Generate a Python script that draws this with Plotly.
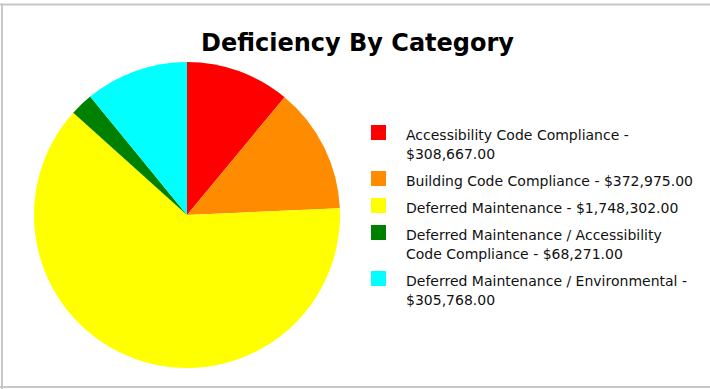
import textwrap
import plotly.graph_objects as go

# Deficiency totals by category
categories = [
    "Accessibility Code Compliance",
    "Building Code Compliance",
    "Deferred Maintenance",
    "Deferred Maintenance / Accessibility Code Compliance",
    "Deferred Maintenance / Environmental",
]
amounts = [308667.00, 372975.00, 1748302.00, 68271.00, 305768.00]
colors = ["#FF0000", "#FF8C00", "#FFFF00", "#008000", "#00FFFF"]

W, H = 710, 389
FONT = "DejaVu Sans"

fig = go.Figure(
    go.Pie(
        labels=categories,
        values=amounts,
        marker=dict(colors=colors, line=dict(width=0)),
        sort=False,
        direction="clockwise",
        rotation=0,
        textinfo="none",
        hoverinfo="label+value+percent",
        showlegend=False,
        domain=dict(x=[34 / W, 340 / W], y=[1 - 368 / H, 1 - 62 / H]),
    )
)

# Legend drawn as swatches and text lines on the right
shapes = []
annotations = []
baseline = 140
for i, (cat, amt, col) in enumerate(zip(categories, amounts, colors)):
    lines = textwrap.wrap(f"{cat} - ${amt:,.2f}", width=38)
    if i > 0:
        baseline += 27
    shapes.append(dict(
        type="rect", xref="paper", yref="paper",
        x0=371 / W, x1=386 / W,
        y0=1 - (baseline) / H, y1=1 - (baseline - 15) / H,
        fillcolor=col, line=dict(width=0),
    ))
    for j, ln in enumerate(lines):
        if j > 0:
            baseline += 19
        annotations.append(dict(
            text=ln, xref="paper", yref="paper",
            x=404 / W, y=1 - (baseline - 5) / H,
            xanchor="left", yanchor="middle", showarrow=False,
            font=dict(family=FONT, size=14, color="#111111"),
        ))

# Frame around the chart area
frame = dict(color="#C8C8C8", width=2)
shapes += [
    dict(type="line", xref="paper", yref="paper", x0=0, x1=1, y0=1 - 4.5 / H, y1=1 - 4.5 / H, line=frame),
    dict(type="line", xref="paper", yref="paper", x0=2 / W, x1=2 / W, y0=0, y1=1 - 3.5 / H, line=frame),
    dict(type="line", xref="paper", yref="paper", x0=0, x1=1, y0=1 - 387 / H, y1=1 - 387 / H, line=frame),
]

fig.update_layout(
    width=W, height=H,
    margin=dict(l=0, r=0, t=0, b=0),
    paper_bgcolor="white",
    plot_bgcolor="white",
    title=dict(
        text="<b>Deficiency By Category</b>",
        x=357.5 / W, xanchor="center",
        y=1 - 43 / H, yanchor="middle", yref="container",
        font=dict(family=FONT, size=24, color="#000000"),
    ),
    shapes=shapes,
    annotations=annotations,
)

fig.write_html("out.html")
